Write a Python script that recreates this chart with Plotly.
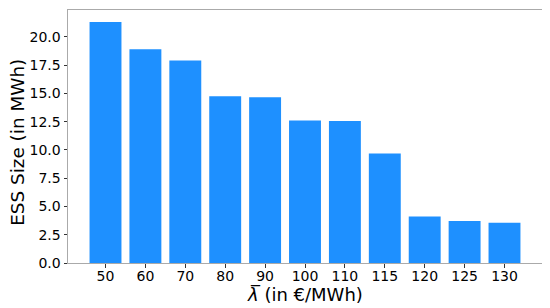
import plotly.graph_objects as go

prices = ["50", "60", "70", "80", "90", "100", "110", "115", "120", "125", "130"]
ess_size = [21.3, 18.9, 17.9, 14.75, 14.65, 12.6, 12.55, 9.68, 4.12, 3.72, 3.56]
y_ticks = [0, 2.5, 5, 7.5, 10, 12.5, 15, 17.5, 20]

FONT = "DejaVu Sans"

fig = go.Figure(
    go.Bar(
        x=list(range(len(prices))),
        y=ess_size,
        width=0.8,
        marker_color="#1E90FF",
        marker_line_width=0,
    )
)

# the page body has an 8px margin, so the figure is made 8px smaller
fig.update_layout(
    width=542,
    height=300,
    margin={"l": 60, "r": 8, "t": 1.5, "b": 45},
    plot_bgcolor="white",
    paper_bgcolor="white",
    showlegend=False,
    font={"family": FONT, "color": "black"},
)

fig.update_xaxes(
    automargin=False,
    range=[-0.94, 10.94],
    tickvals=list(range(len(prices))),
    ticktext=prices,
    tickfont={"size": 14},
    ticks="outside",
    ticklen=3.5,
    ticklabelstandoff=-3,
    tickcolor="#333",
    showgrid=False,
    zeroline=False,
    showline=True,
    linecolor="#aaa",
    mirror=True,
)

fig.update_yaxes(
    automargin=False,
    range=[0, 22.37],
    tickvals=y_ticks,
    ticktext=[f"{v:.1f}" for v in y_ticks],
    tickfont={"size": 14},
    ticks="outside",
    ticklen=3.5,
    tickcolor="#333",
    showgrid=False,
    zeroline=False,
    showline=True,
    linecolor="#aaa",
    mirror=True,
)

# axis titles
fig.add_annotation(
    text="<i>\u03bb\u0305</i> (in \u20ac/MWh)",
    xref="paper", yref="paper", x=0.5, y=-0.168,
    xanchor="center", yanchor="bottom", showarrow=False,
    borderpad=0,
    font={"size": 18},
)
fig.add_annotation(
    text="ESS Size (in MWh)",
    xref="paper", yref="paper", x=-0.1055, y=0.479,
    xanchor="center", yanchor="middle", showarrow=False,
    textangle=-90,
    font={"size": 18.4},
)

fig.write_html("out.html")
